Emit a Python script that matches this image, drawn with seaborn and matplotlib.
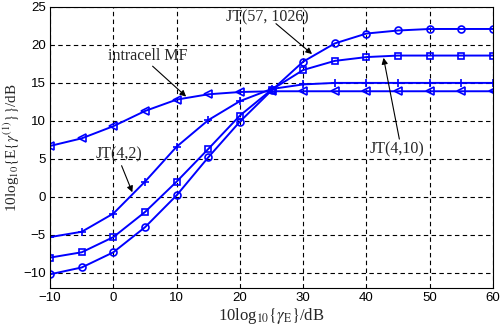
import matplotlib
matplotlib.use("Agg")
import matplotlib.pyplot as plt
import seaborn as sns
import pandas as pd

snr = [-10, -5, 0, 5, 10, 15, 20, 25, 30, 35, 40, 45, 50, 55, 60]
jt_57_1026 = [-10.2, -9.3, -7.3, -4.0, 0.2, 5.2, 9.9, 14.0, 17.8, 20.2, 21.5, 21.9, 22.1, 22.1, 22.1]
jt_4_10 = [-8.0, -7.3, -5.3, -2.0, 2.0, 6.3, 10.7, 14.1, 16.7, 17.9, 18.4, 18.6, 18.6, 18.6, 18.6]
jt_4_2 = [-5.3, -4.6, -2.2, 2.0, 6.6, 10.1, 12.6, 14.2, 14.8, 15.0, 15.0, 15.0, 15.0, 15.0, 15.0]
intracell_mf = [6.7, 7.7, 9.3, 11.3, 12.8, 13.5, 13.8, 13.9, 13.9, 13.9, 13.9, 13.9, 13.9, 13.9, 13.9]

xticks = [-10, 0, 10, 20, 30, 40, 50, 60]
yticks = [-10, -5, 0, 5, 10, 15, 20, 25]

sns.set_style("white")
plt.rcParams['mathtext.fontset'] = 'stix'
plt.rcParams['font.family'] = ['Liberation Sans', 'DejaVu Sans']

fig = plt.figure(figsize=(5.01, 3.31), dpi=100)
ax = fig.add_axes([0.1, 0.130, 0.884, 0.849])

blue = (0, 0, 1)
series = [
    (jt_57_1026, 'o', 5.0),
    (jt_4_10, 's', 4.6),
    (jt_4_2, '+', 6.0),
    (intracell_mf, '<', 5.2),
]
for vals, mk, ms in series:
    df = pd.DataFrame({'x': snr, 'y': vals})
    sns.lineplot(data=df, x='x', y='y', ax=ax, color=blue, linewidth=1.4,
                 marker=mk, markersize=ms,
                 markerfacecolor='none', markeredgecolor=blue, markeredgewidth=1.2)

ax.set_xlim(-10, 60)
ax.set_ylim(-12, 25)
ax.set_xticks(xticks)
ax.set_yticks(yticks)
ax.set_xticklabels(['\u221210' if t == -10 else str(t) for t in xticks], fontsize=9.5)
ax.set_yticklabels([('\u2212' + str(-t)) if t < 0 else str(t) for t in yticks], fontsize=9.5)
ax.grid(True, color='black', linestyle=(0, (4, 3)), linewidth=0.8)
ax.tick_params(direction='in', length=3, width=0.8, colors='black', pad=3)
for s in ax.spines.values():
    s.set_color('black')
    s.set_linewidth(0.8)

serif = ['Liberation Serif', 'DejaVu Serif']
ax.set_xlabel(r'10log$_{10}$$\{\gamma_{\mathrm{E}}\}$/dB', fontsize=12, family=serif, labelpad=1)
ax.set_ylabel(r'10log$_{10}$$\{$E$\{\gamma^{(1)}\}\}$/dB', fontsize=11, family=serif, labelpad=1)

arrow = dict(arrowstyle='-|>', color='black', lw=0.8, mutation_scale=9, shrinkA=0, shrinkB=0)
fs = 11.5
ax.text(24.4, 23.6, 'JT(57, 1026)', ha='center', va='center', fontsize=fs, family=serif)
ax.annotate('', xy=(31.4, 18.8), xytext=(25.7, 22.8), arrowprops=arrow)
ax.text(5.5, 18.6, 'intracell MF', ha='center', va='center', fontsize=fs, family=serif)
ax.annotate('', xy=(11.5, 13.2), xytext=(6.2, 17.2), arrowprops=arrow)
ax.text(0.9, 5.6, 'JT(4,2)', ha='center', va='center', fontsize=fs, family=serif)
ax.annotate('', xy=(3.0, 0.6), xytext=(1.3, 4.1), arrowprops=arrow)
ax.text(44.9, 6.2, 'JT(4,10)', ha='center', va='center', fontsize=fs, family=serif)
ax.annotate('', xy=(42.7, 18.3), xytext=(45.2, 7.6), arrowprops=arrow)

fig.savefig('out.png', dpi=100)
